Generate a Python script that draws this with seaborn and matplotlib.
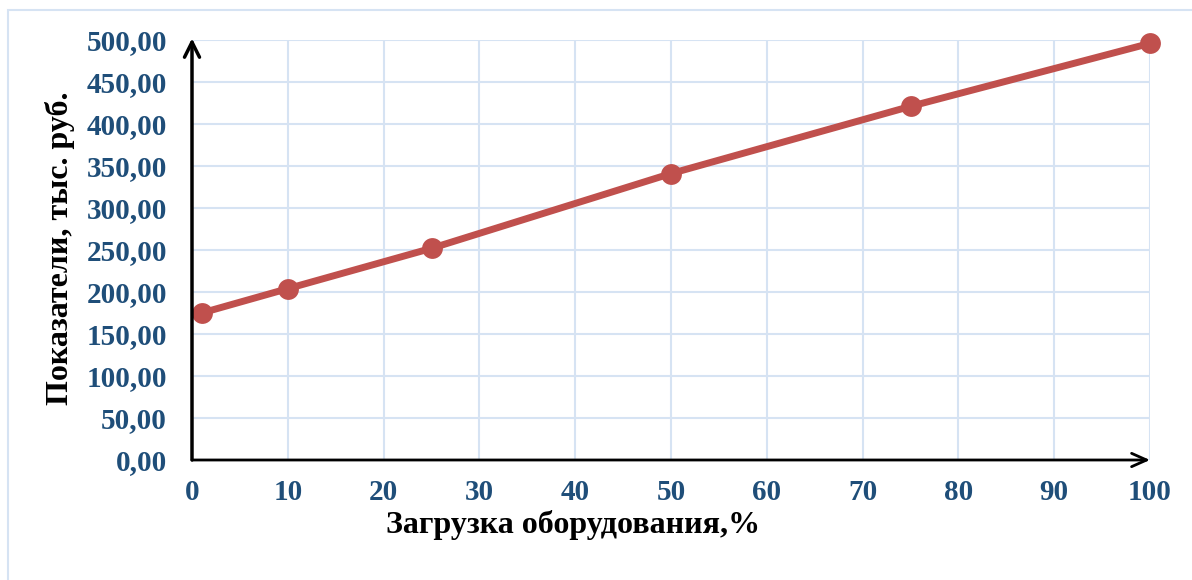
import matplotlib
matplotlib.use("Agg")
import matplotlib.pyplot as plt
from matplotlib.patches import Rectangle
import seaborn as sns
import pandas as pd

# Equipment load (%) and the resulting indicator (thousand roubles)
load_pct = [1, 10, 25, 50, 75, 100]
indicator = [175, 204, 252, 341, 421, 496]
x_ticks = [0, 10, 20, 30, 40, 50, 60, 70, 80, 90, 100]
y_ticks = [0, 50, 100, 150, 200, 250, 300, 350, 400, 450, 500]

x_title = "Загрузка оборудования,%"
y_title = "Показатели, тыс. руб."

sns.set_theme(style="white")
plt.rcParams["font.family"] = ["Liberation Serif", "DejaVu Serif"]
plt.rcParams["font.weight"] = "bold"

tick_color = "#1F4E79"
grid_color = "#D6E3F3"
line_color = "#C0504D"

df = pd.DataFrame({"load": load_pct, "value": indicator})

fig = plt.figure(figsize=(11.92, 5.80), dpi=100)
ax = fig.add_axes([192 / 1192, 1 - 460 / 580, 958 / 1192, 420 / 580])

sns.lineplot(data=df, x="load", y="value", ax=ax, color=line_color,
             linewidth=5, marker="o", markersize=15, markeredgewidth=0,
             clip_on=False, zorder=5)

ax.set_xlim(0, 100)
ax.set_ylim(0, 500)
ax.set_xticks(x_ticks)
ax.set_yticks(y_ticks)
ax.set_yticklabels([f"{v:.2f}".replace(".", ",") for v in y_ticks])
ax.tick_params(axis="both", length=0, labelsize=21, labelcolor=tick_color)
ax.tick_params(axis="x", pad=14)
ax.tick_params(axis="y", pad=18)
for lab in ax.get_xticklabels() + ax.get_yticklabels():
    lab.set_fontweight("bold")

ax.grid(True, color=grid_color, linewidth=1.5)
for side in ["left", "bottom", "top", "right"]:
    ax.spines[side].set_visible(False)

# Axis arrows
ax.annotate("", xy=(0, 502), xytext=(0, 0),
            arrowprops=dict(arrowstyle="->,head_length=0.9,head_width=0.45",
                            color="black", lw=2.5, shrinkA=0, shrinkB=0),
            annotation_clip=False, zorder=6)
ax.annotate("", xy=(100, 0), xytext=(0, 0),
            arrowprops=dict(arrowstyle="->,head_length=0.9,head_width=0.4",
                            color="black", lw=2, shrinkA=0, shrinkB=0),
            annotation_clip=False, zorder=6)

ax.set_xlabel("")
ax.set_ylabel("")
fig.text(573 / 1192, 1 - 533 / 580, x_title, ha="center", va="baseline",
         fontsize=23, fontweight="bold", color="black")
fig.text(60 / 1192, 1 - 248 / 580, y_title, ha="center", va="center",
         rotation=90, fontsize=23, fontweight="bold", color="black")

# Chart area frame
fig.patches.append(Rectangle((8 / 1192, -0.2), 1.5, 1.2 - 10 / 580,
                             transform=fig.transFigure, fill=False,
                             edgecolor=grid_color, linewidth=1.5))

fig.savefig("out.png", dpi=100)
